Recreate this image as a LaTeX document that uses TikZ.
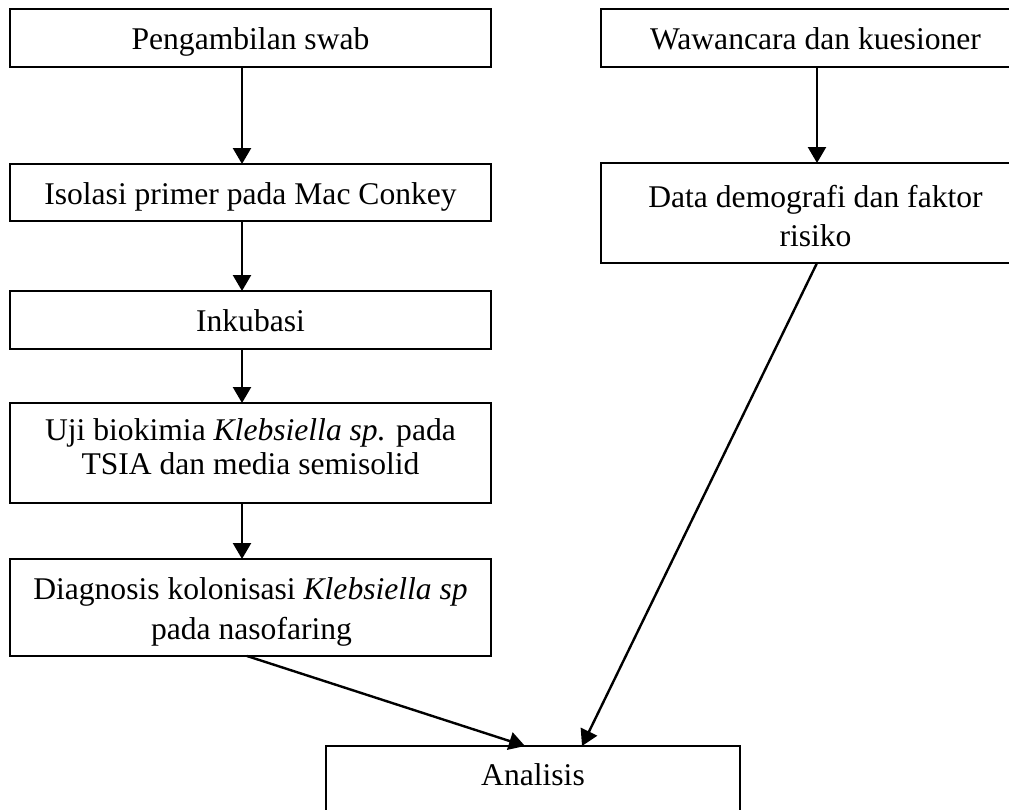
\documentclass[tikz,border=0pt]{standalone}
\usepackage{fontspec}
\setmainfont{Liberation Serif}
\usetikzlibrary{arrows.meta}
\begin{document}
\begin{tikzpicture}[x=1pt,y=-1pt,
  box/.style={draw, line width=1.8pt, rectangle, inner sep=0pt, outer sep=0pt, anchor=north west, font=\fontsize{31.6}{34}\selectfont},
  lbox/.style={box, minimum width=481pt},
  rbox/.style={box, minimum width=429pt},
  txt/.style={anchor=base, inner sep=0pt, font=\fontsize{31.6}{34}\selectfont},
  flow/.style={-{Triangle[length=16pt,width=18pt]}, line width=2.4pt},
]
\useasboundingbox (0,0) rectangle (1009,809);
\clip (0,0) rectangle (1009,809);

% left column
\node[lbox, text height=40pt, text depth=18pt] (b1) at (10,9) {Pengambilan swab};
\node[lbox, text height=40pt, text depth=17pt] (b3) at (10,164) {Isolasi primer pada Mac Conkey};
\node[lbox, text height=40pt, text depth=18pt] (b5) at (10,291) {Inkubasi};
\node[lbox, text height=37.7pt, text depth=62.3pt] (b6) at (10,403)
  {\begin{tabular}[t]{@{}c@{}}Uji biokimia \textit{Klebsiella sp.} pada\\TSIA dan media semisolid\end{tabular}};
\node[lbox, minimum height=97pt] (b7) at (10,559) {};
\begin{scope}
  \clip (10,559) rectangle (491,645);
  \node[txt] (t7a) at (250.5,599) {Diagnosis kolonisasi \textit{Klebsiella sp}};
  \node[txt] (t7b) at (251.5,639) {pada nasofaring};
\end{scope}

% right column
\node[rbox, text height=40pt, text depth=18pt] (b2) at (601,9) {Wawancara dan kuesioner};
\node[rbox, text height=44pt, text depth=56pt] (b4) at (601,163)
  {\begin{tabular}[t]{@{}c@{}}Data demografi dan faktor\\[5pt]risiko\end{tabular}};

% bottom
\node[box, minimum width=414pt, text height=39pt, text depth=45pt] (b8) at (326,746) {Analisis};

% connectors
\draw[flow] ([xshift=-8.5pt]b1.south) -- ([xshift=-8.5pt]b3.north);
\draw[flow] ([xshift=-8.5pt]b3.south) -- ([xshift=-8.5pt]b5.north);
\draw[flow] ([xshift=-8.5pt]b5.south) -- ([xshift=-8.5pt]b6.north);
\draw[flow] ([xshift=-8.5pt]b6.south) -- ([xshift=-8.5pt]b7.north);
\draw[flow] ([xshift=1.5pt]b2.south) -- ([xshift=1.5pt]b4.north);
\draw[flow] ([xshift=1.5pt]b4.south) -- ([xshift=49pt]b8.north);
\draw[flow] ([xshift=-3.5pt]b7.south) -- ([xshift=-8pt]b8.north);
\end{tikzpicture}
\end{document}
